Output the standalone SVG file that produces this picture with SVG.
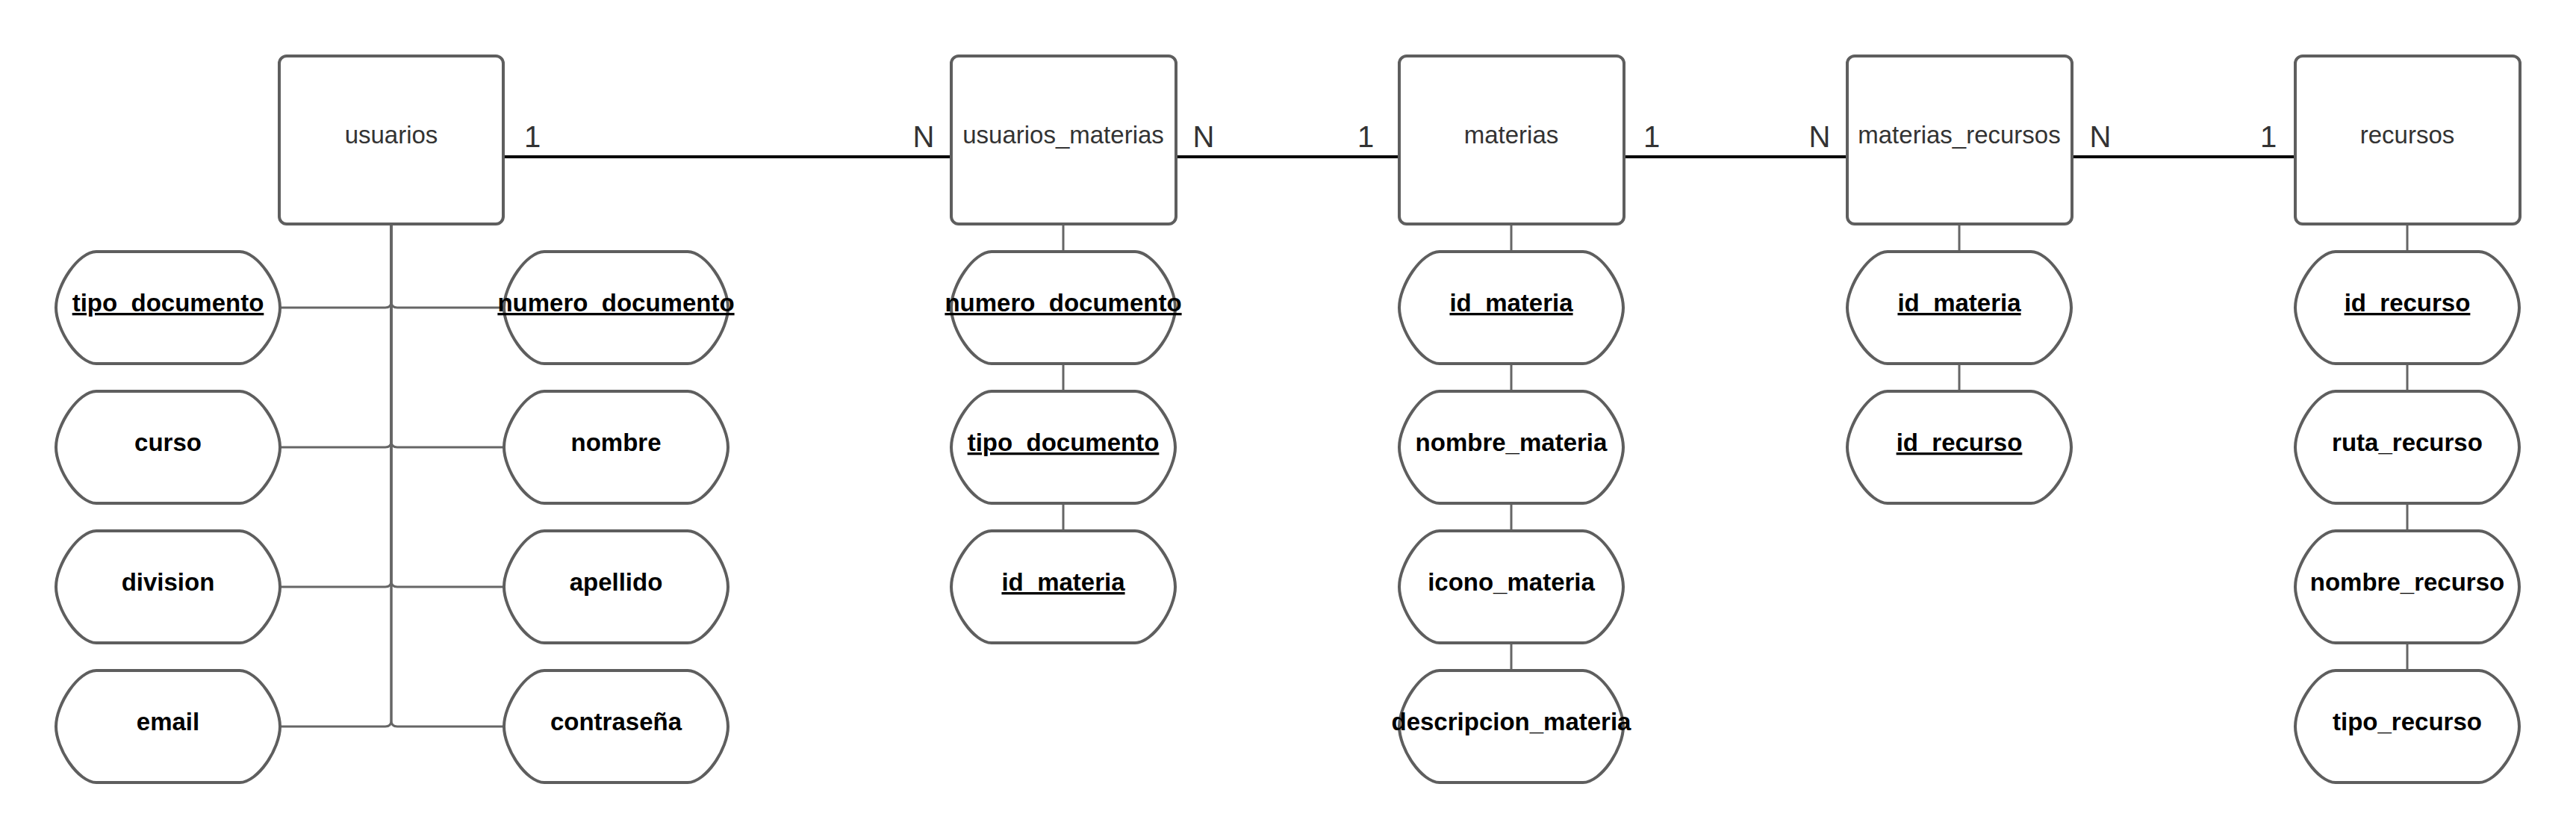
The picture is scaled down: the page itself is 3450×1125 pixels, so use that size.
<svg xmlns="http://www.w3.org/2000/svg" width="3450" height="1125" viewBox="0 0 3450 1125">
<style>
.ent{fill:#fff;stroke:#5e5e5e;stroke-width:4}
.att{fill:#fff;stroke:#5e5e5e;stroke-width:4}
.en{font-family:"Liberation Sans",Arial,sans-serif;font-size:33px;fill:#333;text-anchor:middle}
.at{font-family:"Liberation Sans",Arial,sans-serif;font-size:33px;font-weight:bold;fill:#000;text-anchor:middle}
.pk{text-decoration:underline}
.lb{font-family:"Liberation Sans",Arial,sans-serif;font-size:40px;fill:#333;text-anchor:middle}
.rel{stroke:#000;stroke-width:4;fill:none}
.lk{stroke:#666;stroke-width:3;fill:none}
</style>
<defs>
<path id="pill" d="M54,0 H246 C270,0 300,45 300,75 C300,105 270,150 246,150 H54 C30,150 0,105 0,75 C0,45 30,0 54,0 Z"/>
</defs>
<rect width="3450" height="1125" fill="#fff"/>
<g id="connectors">
<path class="rel" d="M674,210 H1274"/>
<path class="rel" d="M1575,210 H1874"/>
<path class="rel" d="M2175,210 H2474"/>
<path class="rel" d="M2775,210 H3074"/>
<text class="lb" x="713" y="197">1</text>
<text class="lb" x="1237" y="197">N</text>
<text class="lb" x="1612" y="197">N</text>
<text class="lb" x="1829" y="197">1</text>
<text class="lb" x="2212" y="197">1</text>
<text class="lb" x="2437" y="197">N</text>
<text class="lb" x="2813" y="197">N</text>
<text class="lb" x="3038" y="197">1</text>
<path class="lk" d="M524,300 V404 Q524,412 516,412 H375"/>
<path class="lk" d="M524,300 V404 Q524,412 532,412 H675"/>
<path class="lk" d="M524,300 V591 Q524,599 516,599 H375"/>
<path class="lk" d="M524,300 V591 Q524,599 532,599 H675"/>
<path class="lk" d="M524,300 V778 Q524,786 516,786 H375"/>
<path class="lk" d="M524,300 V778 Q524,786 532,786 H675"/>
<path class="lk" d="M524,300 V965 Q524,973 516,973 H375"/>
<path class="lk" d="M524,300 V965 Q524,973 532,973 H675"/>
<path class="lk" d="M1424,300 V337 M1424,487 V524 M1424,674 V711"/>
<path class="lk" d="M2024,300 V337 M2024,487 V524 M2024,674 V711 M2024,861 V898"/>
<path class="lk" d="M2624,300 V337 M2624,487 V524"/>
<path class="lk" d="M3224,300 V337 M3224,487 V524 M3224,674 V711 M3224,861 V898"/>
</g>
<g id="usuarios"><rect class="ent" x="374" y="75" width="300" height="225" rx="10"/><text class="en" x="524" y="192">usuarios</text></g>
<g id="usuarios_materias"><rect class="ent" x="1274" y="75" width="301" height="225" rx="10"/><text class="en" x="1424" y="192">usuarios_materias</text></g>
<g id="materias"><rect class="ent" x="1874" y="75" width="301" height="225" rx="10"/><text class="en" x="2024" y="192">materias</text></g>
<g id="materias_recursos"><rect class="ent" x="2474" y="75" width="301" height="225" rx="10"/><text class="en" x="2624" y="192">materias_recursos</text></g>
<g id="recursos"><rect class="ent" x="3074" y="75" width="301" height="225" rx="10"/><text class="en" x="3224" y="192">recursos</text></g>

<g id="u_tipo_documento"><use href="#pill" class="att" x="75" y="337"/><text class="at pk" x="225" y="417">tipo_documento</text></g>
<g id="u_numero_documento"><use href="#pill" class="att" x="675" y="337"/><text class="at pk" x="825" y="417">numero_documento</text></g>
<g id="u_curso"><use href="#pill" class="att" x="75" y="524"/><text class="at" x="225" y="604">curso</text></g>
<g id="u_nombre"><use href="#pill" class="att" x="675" y="524"/><text class="at" x="825" y="604">nombre</text></g>
<g id="u_division"><use href="#pill" class="att" x="75" y="711"/><text class="at" x="225" y="791">division</text></g>
<g id="u_apellido"><use href="#pill" class="att" x="675" y="711"/><text class="at" x="825" y="791">apellido</text></g>
<g id="u_email"><use href="#pill" class="att" x="75" y="898"/><text class="at" x="225" y="978">email</text></g>
<g id="u_contrasena"><use href="#pill" class="att" x="675" y="898"/><text class="at" x="825" y="978">contraseña</text></g>

<g id="um_numero_documento"><use href="#pill" class="att" x="1274" y="337"/><text class="at pk" x="1424" y="417">numero_documento</text></g>
<g id="um_tipo_documento"><use href="#pill" class="att" x="1274" y="524"/><text class="at pk" x="1424" y="604">tipo_documento</text></g>
<g id="um_id_materia"><use href="#pill" class="att" x="1274" y="711"/><text class="at pk" x="1424" y="791">id_materia</text></g>

<g id="m_id_materia"><use href="#pill" class="att" x="1874" y="337"/><text class="at pk" x="2024" y="417">id_materia</text></g>
<g id="m_nombre_materia"><use href="#pill" class="att" x="1874" y="524"/><text class="at" x="2024" y="604">nombre_materia</text></g>
<g id="m_icono_materia"><use href="#pill" class="att" x="1874" y="711"/><text class="at" x="2024" y="791">icono_materia</text></g>
<g id="m_descripcion_materia"><use href="#pill" class="att" x="1874" y="898"/><text class="at" x="2024" y="978">descripcion_materia</text></g>

<g id="mr_id_materia"><use href="#pill" class="att" x="2474" y="337"/><text class="at pk" x="2624" y="417">id_materia</text></g>
<g id="mr_id_recurso"><use href="#pill" class="att" x="2474" y="524"/><text class="at pk" x="2624" y="604">id_recurso</text></g>

<g id="r_id_recurso"><use href="#pill" class="att" x="3074" y="337"/><text class="at pk" x="3224" y="417">id_recurso</text></g>
<g id="r_ruta_recurso"><use href="#pill" class="att" x="3074" y="524"/><text class="at" x="3224" y="604">ruta_recurso</text></g>
<g id="r_nombre_recurso"><use href="#pill" class="att" x="3074" y="711"/><text class="at" x="3224" y="791">nombre_recurso</text></g>
<g id="r_tipo_recurso"><use href="#pill" class="att" x="3074" y="898"/><text class="at" x="3224" y="978">tipo_recurso</text></g>
</svg>
